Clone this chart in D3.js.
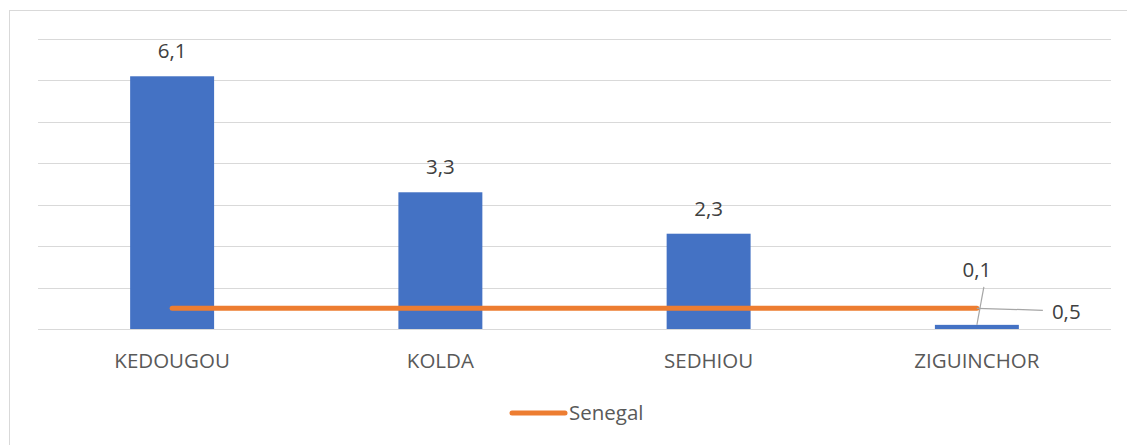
<!DOCTYPE html>
<html>
<head>
<meta charset="utf-8">
<script src="https://cdn.jsdelivr.net/npm/d3@7"></script>
<style>
  body { margin: 0; background: #fff; }
  text { font-family: "Open Sans", "Liberation Sans", sans-serif; }
</style>
</head>
<body>
<div id="chart"></div>
<script>
(function (d3) {
    'use strict';

    const regions = ['KEDOUGOU', 'KOLDA', 'SEDHIOU', 'ZIGUINCHOR'];
    const regionValues = [6.1, 3.3, 2.3, 0.1];
    const senegalValue = 0.5;
    const gridTicks = [0, 1, 2, 3, 4, 5, 6, 7];

    var width = 1127,
        height = 445,
        left = 38,
        right = 1111,
        top = 39,
        bottom = 329,
        fontSize = 20.5;

    var fmt = function (v) { return d3.format('.1f')(v).replace('.', ','); };

    var svg = d3.select('#chart').append('svg')
        .attr('width', width)
        .attr('height', height);

    // outer frame
    svg.append('rect')
        .attr('x', 9.5).attr('y', 10.5)
        .attr('width', 1127).attr('height', 445)
        .attr('fill', 'none')
        .attr('stroke', '#d9d9d9');

    var x = d3.scaleBand().domain(regions).range([left, right]).paddingInner(0.687).paddingOuter(0.3435);
    var xc = d3.scalePoint().domain(regions).range([left, right]).padding(0.5);
    var y = d3.scaleLinear().domain([0, 7]).range([bottom, top]);

    // gridlines
    svg.selectAll('line.grid').data(gridTicks).enter()
        .append('line')
            .attr('class', 'grid')
            .attr('x1', left).attr('x2', right)
            .attr('y1', function (d) { return Math.round(y(d)) + 0.5; })
            .attr('y2', function (d) { return Math.round(y(d)) + 0.5; })
            .attr('stroke', '#d9d9d9')
            .attr('stroke-width', 1);

    // bars
    svg.selectAll('rect.bar').data(regionValues).enter()
        .append('rect')
            .attr('class', 'bar')
            .attr('x', function (d, i) { return x(regions[i]); })
            .attr('y', function (d) { return y(d); })
            .attr('width', x.bandwidth())
            .attr('height', function (d) { return y(0) - y(d); })
            .attr('fill', '#4472c4');

    // bar labels (last one sits higher with a leader line)
    svg.selectAll('text.val').data(regionValues).enter()
        .append('text')
            .attr('class', 'val')
            .attr('x', function (d, i) { return xc(regions[i]); })
            .attr('y', function (d, i) { return i === 3 ? y(d) - 48 : y(d) - 18; })
            .attr('text-anchor', 'middle')
            .attr('font-size', fontSize)
            .attr('fill', '#404040')
            .text(fmt);

    var lastX = xc(regions[3]);
    svg.append('line')
        .attr('x1', lastX + 7).attr('y1', y(regionValues[3]) - 38)
        .attr('x2', lastX).attr('y2', y(regionValues[3]))
        .attr('stroke', '#a6a6a6').attr('stroke-width', 1.2);

    // Senegal line
    svg.append('line')
        .attr('x1', xc(regions[0])).attr('x2', xc(regions[3]))
        .attr('y1', y(senegalValue)).attr('y2', y(senegalValue))
        .attr('stroke', '#ed7d31')
        .attr('stroke-width', 5)
        .attr('stroke-linecap', 'round');

    // Senegal label with leader
    svg.append('line')
        .attr('x1', lastX).attr('y1', y(senegalValue))
        .attr('x2', lastX + 66).attr('y2', y(senegalValue) + 2)
        .attr('stroke', '#a6a6a6').attr('stroke-width', 1.2);
    svg.append('text')
        .attr('x', lastX + 75).attr('y', y(senegalValue) + 11)
        .attr('font-size', fontSize)
        .attr('fill', '#404040')
        .text(fmt(senegalValue));

    // category labels
    svg.selectAll('text.cat').data(regions).enter()
        .append('text')
            .attr('class', 'cat')
            .attr('x', function (d) { return xc(d); })
            .attr('y', 368)
            .attr('text-anchor', 'middle')
            .attr('font-size', fontSize)
            .attr('fill', '#595959')
            .text(function (d) { return d; });

    // legend
    svg.append('line')
        .attr('x1', 512).attr('x2', 565)
        .attr('y1', 413).attr('y2', 413)
        .attr('stroke', '#ed7d31')
        .attr('stroke-width', 5)
        .attr('stroke-linecap', 'round');
    svg.append('text')
        .attr('x', 569).attr('y', 420)
        .attr('font-size', fontSize)
        .attr('fill', '#595959')
        .text('Senegal');
})(d3);
</script>
</body>
</html>
